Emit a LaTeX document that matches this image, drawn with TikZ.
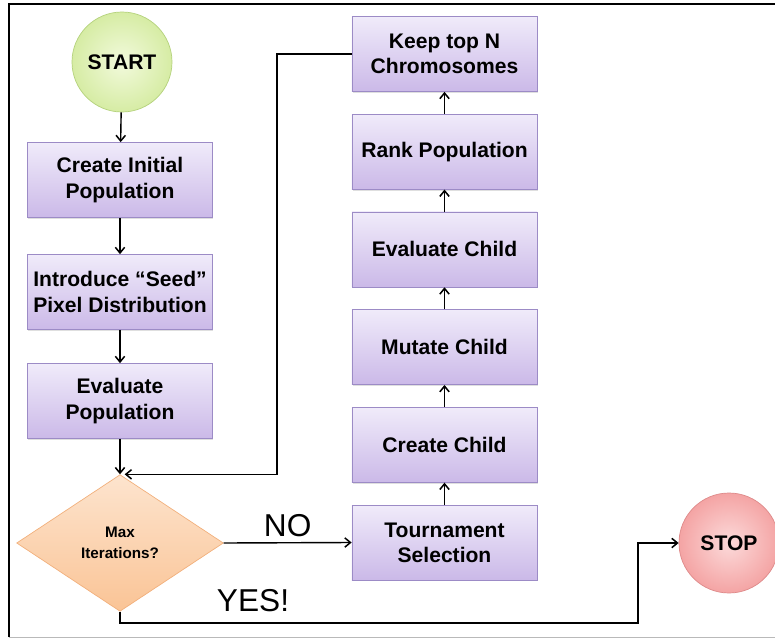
\documentclass[tikz,border=0pt]{standalone}
\usepackage{fontspec}
\setmainfont{Liberation Sans}
\usetikzlibrary{arrows.meta, positioning, shapes.geometric, shadows}
\definecolor{cboxtop}{HTML}{F0EBFA}
\definecolor{cboxbot}{HTML}{CBB9E8}
\definecolor{cboxline}{HTML}{9C8BC6}
\definecolor{cgreenin}{HTML}{F2FADC}
\definecolor{cgreenout}{HTML}{D6ECA4}
\definecolor{cgreenline}{HTML}{B4D27C}
\definecolor{credin}{HTML}{FCDADA}
\definecolor{credout}{HTML}{F4A4A4}
\definecolor{credline}{HTML}{DE8A8A}
\definecolor{corgtop}{HTML}{FDE4CE}
\definecolor{corgbot}{HTML}{FAC496}
\definecolor{corgline}{HTML}{F2B07C}
\tikzset{
  every picture/.style={line width=1.1pt},
  box/.style={draw=cboxline, line width=0.6pt, top color=cboxtop, bottom color=cboxbot, align=center,
    minimum width=5.55cm, minimum height=2.25cm, inner sep=2pt,
    font=\bfseries\fontsize{18}{21.5}\selectfont,
    drop shadow={opacity=0.25, shadow xshift=0.6pt, shadow yshift=-1.2pt}},
  term/.style={circle, draw=#1line, line width=0.6pt, inner color=#1in, outer color=#1out,
    minimum size=3cm, inner sep=0pt, font=\bfseries\fontsize{18}{21.5}\selectfont},
  decide/.style={diamond, draw=corgline, line width=0.6pt, top color=corgtop, bottom color=corgbot,
    minimum width=6.2cm, minimum height=4.1cm, inner sep=0pt, align=center,
    font=\bfseries\fontsize{13}{18}\selectfont},
  arrow/.style={-{Straight Barb[length=1.7mm, width=2.8mm, line width=1.3pt]}, draw=black, line width=1.2pt},
  big/.style={font=\fontsize{27}{30}\selectfont},
}
\begin{document}
\begin{tikzpicture}[x=0.03cm, y=-0.03cm]
\useasboundingbox (0,0) rectangle (775,640);
% frame
\draw[black, line width=2.2pt] (9,637) -- (9,4) -- (776,4);
\draw[gray!55, line width=0.8pt] (9,637) -- (776,637);
% left column
\node[term=cgreen] (start) at (122,62) {START};
\node[box] (init) at (120,180) {Create Initial\\Population};
\node[box] (seed) at (120,292) {Introduce \textquotedblleft Seed\textquotedblright\\Pixel Distribution};
\node[box] (evalpop) at (120,401) {Evaluate\\Population};
\node[decide] (maxit) at (120,543) {Max\\Iterations?};
% right column
\foreach \name/\txt [count=\k from 0] in {keep/{Keep top N\\Chromosomes}, rank/Rank Population,
    evalch/Evaluate Child, mutate/Mutate Child, create/Create Child, tourn/{Tournament\\Selection}}
  \node[box] (\name) at (444.5,54+97.7*\k) {\txt};
\node[term=cred] (stop) at (729,543) {STOP};
% connectors
\draw[arrow] (start) -- (init);
\draw[arrow] (init) -- (seed);
\draw[arrow] (seed) -- (evalpop);
\draw[arrow] (evalpop) -- (maxit.north);
\draw[arrow] (tourn) -- (create);
\draw[arrow] (create) -- (mutate);
\draw[arrow] (mutate) -- (evalch);
\draw[arrow] (evalch) -- (rank);
\draw[arrow] (rank) -- (keep);
\coordinate (back) at (277,54);
\draw[arrow] (keep.west) -- (back) |- ([xshift=4]maxit.north);
\draw[arrow] (maxit.east) -- node[big, above=1pt] (nolbl) {NO} (tourn.west);
\coordinate (yescorner) at (638,623);
\draw[arrow] (maxit.south) |- (yescorner) |- (stop.west);
\node[big] (yeslbl) at (253,601) {YES!};
\end{tikzpicture}
\end{document}
